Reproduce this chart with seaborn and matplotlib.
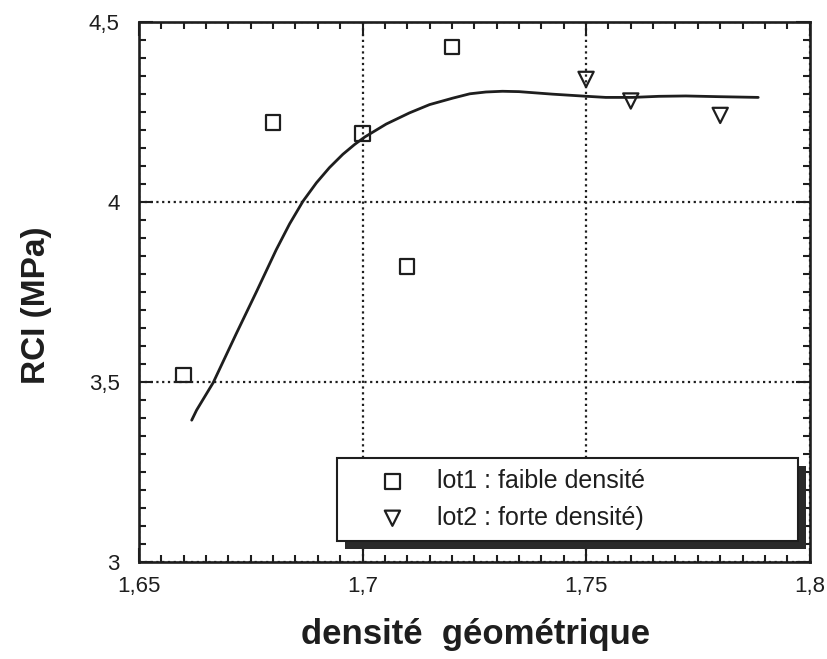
import matplotlib
matplotlib.use("Agg")
import matplotlib.pyplot as plt
from matplotlib.ticker import MultipleLocator, FuncFormatter
from matplotlib.patches import Rectangle
from matplotlib.transforms import IdentityTransform
import seaborn as sns

# Measured points, two batches
lot1_x = [1.66, 1.68, 1.70, 1.71, 1.72]
lot1_y = [3.52, 4.22, 4.19, 3.82, 4.43]
lot2_x = [1.75, 1.76, 1.78]
lot2_y = [4.34, 4.28, 4.24]

# Fitted trend curve
fit_x = [1.6618, 1.6629, 1.6666, 1.6718, 1.6763, 1.6807, 1.6837, 1.6867,
         1.6897, 1.6926, 1.6956, 1.6982, 1.7005, 1.7053, 1.7105, 1.7150,
         1.7202, 1.7240, 1.7276, 1.7313, 1.7350, 1.7425, 1.7502, 1.7544,
         1.7604, 1.7663, 1.7723, 1.7797, 1.7885]
fit_y = [3.394, 3.422, 3.498, 3.635, 3.751, 3.867, 3.939, 4.002,
         4.053, 4.095, 4.132, 4.159, 4.180, 4.216, 4.247, 4.270,
         4.288, 4.300, 4.305, 4.307, 4.306, 4.299, 4.293, 4.290,
         4.290, 4.293, 4.294, 4.292, 4.290]

labels = ["lot1 : faible densité", "lot2 : forte densité)"]

sns.set_style("ticks")
plt.rcParams["font.family"] = ["Liberation Sans", "DejaVu Sans"]
plt.rcParams["text.color"] = "#1e1e1e"
plt.rcParams["axes.labelcolor"] = "#1e1e1e"

fig = plt.figure(figsize=(8.27, 6.59), dpi=100)
ax = fig.add_axes([0.168, 0.147, 0.811, 0.820])

sns.lineplot(x=fit_x, y=fit_y, ax=ax, color="#1e1e1e", linewidth=2.0,
             sort=False, estimator=None, zorder=3)
sns.scatterplot(x=lot1_x, y=lot1_y, ax=ax, marker="s", s=110,
                facecolors="none", edgecolor="#1e1e1e", linewidth=1.6,
                label=labels[0], zorder=4)
sns.scatterplot(x=lot2_x, y=lot2_y, ax=ax, marker="v", s=120,
                facecolors="none", edgecolor="#1e1e1e", linewidth=1.6,
                label=labels[1], zorder=4)

ax.set_xlim(1.65, 1.80)
ax.set_ylim(3.0, 4.5)
ax.xaxis.set_major_locator(MultipleLocator(0.05))
ax.xaxis.set_minor_locator(MultipleLocator(0.005))
ax.yaxis.set_major_locator(MultipleLocator(0.5))
ax.yaxis.set_minor_locator(MultipleLocator(0.05))
comma = FuncFormatter(lambda v, p: f"{v:g}".replace(".", ","))
ax.xaxis.set_major_formatter(comma)
ax.yaxis.set_major_formatter(comma)

ax.tick_params(which="both", direction="in", top=True, right=True,
               color="#1e1e1e", width=1.5, labelsize=16,
               labelcolor="#1e1e1e")
ax.tick_params(which="major", length=10)
ax.tick_params(which="minor", length=5)
ax.tick_params(axis="x", which="major", pad=10)
ax.tick_params(axis="y", which="major", pad=14)

for sp in ax.spines.values():
    sp.set_linewidth(1.9)
    sp.set_color("#1e1e1e")

ax.grid(True, which="major", color="#1e1e1e", linewidth=1.6,
        linestyle=(0, (1, 1.6)))

ax.set_xlabel("densité  géométrique", fontsize=25, fontweight="bold")
ax.set_ylabel("RCI (MPa)", fontsize=24, fontweight="bold")
ax.xaxis.set_label_coords(0.502, -0.104)
ax.yaxis.set_label_coords(-0.130, 0.476)

leg = ax.legend(loc="upper left", bbox_to_anchor=(0.295, 0.1926, 0.688, 0.0),
                mode="expand", borderaxespad=0, fontsize=18, frameon=True,
                fancybox=False, framealpha=1, edgecolor="#1e1e1e",
                borderpad=0.45, handlelength=3.55, handletextpad=0.0,
                labelspacing=0.5, scatterpoints=1)
leg.get_frame().set_linewidth(1.5)
leg.set_zorder(6)

# drop shadow under the legend box
fig.canvas.draw()
bb = leg.get_window_extent()
ax.add_patch(Rectangle((bb.x0 + 8, bb.y0 - 8), bb.width, bb.height,
                       transform=IdentityTransform(), facecolor="#2a2a2a",
                       edgecolor="none", zorder=5.5, clip_on=False))

fig.savefig("out.png", dpi=100)
